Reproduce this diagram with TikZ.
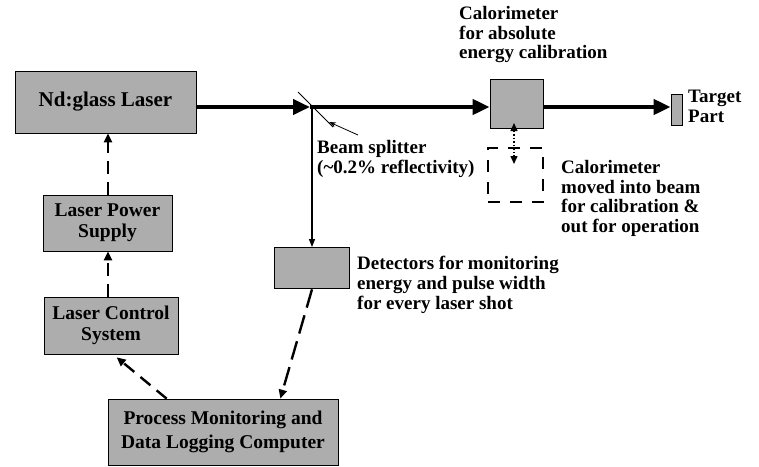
\documentclass[tikz,border=0pt]{standalone}
\usepackage{fontspec}
\setmainfont{Liberation Serif}
\usetikzlibrary{arrows.meta,calc}
\tikzset{
  box/.style={draw=black, line width=0.7pt, fill=black!32, inner sep=0pt, align=center,
    font=\bfseries\fontsize{19.5}{21}\selectfont},
  lbl/.style={inner sep=0pt, align=left, anchor=north west,
    font=\bfseries\fontsize{19}{19.8}\selectfont},
  beam/.style={line width=4pt, -{Triangle[length=17pt,width=15pt]}},
  beamplain/.style={line width=4pt},
  thinarrow/.style={line width=1.2pt, -{Triangle[length=8pt,width=6pt]}},
  ctrl/.style={line width=2.4pt, dash pattern=on 13pt off 8pt, -{Triangle[length=9pt,width=8pt]}},
  ctrllong/.style={line width=2.4pt, dash pattern=on 19pt off 8pt, -{Triangle[length=9pt,width=8pt]}},
  ghostbox/.style={draw=black, line width=2pt, dash pattern=on 12pt off 10pt, inner sep=0pt},
  dotarrow/.style={line width=1.5pt, dotted, {Triangle[length=8pt,width=7pt]}-{Triangle[length=8pt,width=7pt]}},
  pointer/.style={line width=0.8pt, -{Stealth[length=7pt,width=5pt]}},
}
\begin{document}
\begin{tikzpicture}[x=1pt,y=-1pt]
\useasboundingbox (0,0) rectangle (759,466);

% boxes
\node[box, minimum width=181pt, minimum height=62pt, font=\bfseries\fontsize{21}{22}\selectfont] (laser) at (105.5,102) {Nd:glass Laser};
\node[box, minimum width=129pt, minimum height=56pt] (power) at (107.5,223) {Laser Power\\Supply};
\node[box, minimum width=134pt, minimum height=57pt] (control) at (111,325.5) {Laser Control\\System};
\node[box, minimum width=230pt, minimum height=66pt, font=\bfseries\fontsize{19.5}{24}\selectfont] (process) at (223,432) {Process Monitoring and\\Data Logging Computer};
\node[box, minimum width=75pt, minimum height=41pt] (det) at (311.5,267.5) {};
\node[box, minimum width=53pt, minimum height=49pt] (cal) at (516.5,103.5) {};
\node[box, minimum width=11pt, minimum height=31pt] (target) at (676.5,109.5) {};
\node[ghostbox, minimum width=55pt, minimum height=54pt] (ghost) at (515.5,175) {};

% beam splitter
\coordinate (split) at (310,107);
\coordinate (sp1) at (298,92);
\coordinate (sp2) at (333,127);
\draw[line width=1pt] (sp1) -- (sp2);

% beam
\draw[beam] (laser.east |- split) -- (split);
\draw[beam] (split) -- (cal.west |- split);
\draw[beam] (cal.east |- split) -- (target.west |- split);

% sampled beam to detectors
\draw[thinarrow] (312,107) -- (312,247) coordinate (detin);

% pointer to splitter
\coordinate (ptail) at (358,135);
\coordinate (ptip) at (329,122);
\draw[pointer] (ptail) -- (ptip);

% calorimeter movement
\coordinate (dtop) at (514,123);
\coordinate (dbot) at (514,164);
\draw[dotarrow] (dtop) -- (dbot);

% control connectors
\draw[ctrl] (power.north -| 108,0) -- (laser.south -| 108,0);
\draw[ctrl] (control.north -| 108,0) -- (power.south -| 108,0);
\draw[ctrl] ($(process.north west)+(59,0)$) -- ($(control.south west)+(73,3)$);
\draw[ctrllong] ($(det.south)+(0.5,1)$) -- ($(process.north east)+(-58,0)$);

% labels
\node[lbl] (callbl) at (459,6) {Calorimeter\\for absolute\\energy calibration};
\node[lbl] (tgtlbl) at (688,90) {Target\\Part};
\node[lbl] (splbl) at (317,140) {Beam splitter\\(\textasciitilde0.2\% reflectivity)};
\node[lbl] (movlbl) at (561,160) {Calorimeter\\moved into beam\\for calibration \&\\out for operation};
\node[lbl] (detlbl) at (357,256) {Detectors for monitoring\\energy and pulse width\\for every laser shot};
\end{tikzpicture}
\end{document}
